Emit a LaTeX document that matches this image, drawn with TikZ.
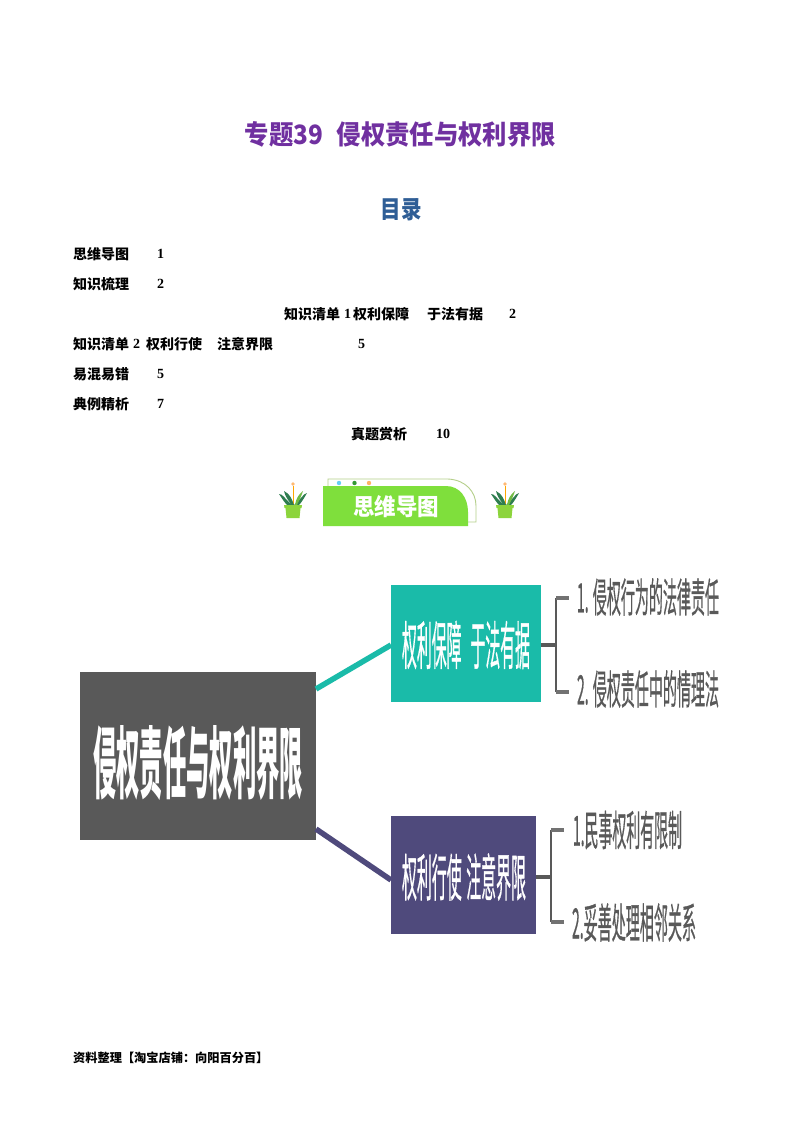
\documentclass[tikz,border=0pt]{standalone}
\usepackage{graphicx}
\usepackage{fontspec}
\setmainfont{Liberation Serif}
\newfontfamily\cjk{Noto Sans CJK SC}
\newfontfamily\cjkm[FakeBold=0.9]{Noto Sans CJK SC}
\definecolor{titlepurple}{HTML}{7030A0}
\definecolor{tocblue}{HTML}{2F5E96}
\definecolor{rootgrey}{HTML}{595959}
\definecolor{tealbox}{HTML}{1ABBA9}
\definecolor{violetbox}{HTML}{4F4A7C}
\definecolor{bannergreen}{HTML}{7FDF3C}
\definecolor{potgreen}{HTML}{8CD43C}
\definecolor{leafgreen}{HTML}{2E7D4F}
\definecolor{outlinegreen}{HTML}{B5CF8A}
\newcommand{\fit}[3]{\resizebox{#1pt}{#2pt}{\cjk\bfseries #3}}
\newcommand{\fitr}[3]{\resizebox{#1pt}{#2pt}{\cjkm #3}}
\tikzset{
  x=1pt,y=-1pt,
  toc/.style={anchor=west,inner sep=0pt,font=\fontsize{14pt}{14pt}\selectfont\cjk\bfseries,text=black},
  num/.style={anchor=west,inner sep=0pt,font=\fontsize{14pt}{14pt}\selectfont\rmfamily\bfseries,text=black},
  foottext/.style={anchor=west,inner sep=0pt,font=\fontsize{12.2pt}{13pt}\selectfont\cjk\bfseries,text=black},
  txt/.style={inner sep=0pt,anchor=center},
  rootbox/.style={draw=none,fill=rootgrey,minimum width=236pt,minimum height=168pt,inner sep=0pt},
  tealnode/.style={draw=none,fill=tealbox,minimum width=150pt,minimum height=117pt,inner sep=0pt},
  violetnode/.style={draw=none,fill=violetbox,minimum width=145pt,minimum height=118pt,inner sep=0pt},
  trunk/.style={draw=rootgrey,line width=4.5pt},
  brace/.style={draw=rootgrey,line width=2.8pt,line cap=butt},
  stub/.style={draw=rootgrey!85,line width=3.6pt},
  pot/.style={fill=potgreen,draw=none},
  leaf/.style={fill=leafgreen,draw=none},
}
\newcommand{\plant}[1]{%
  \begin{scope}[shift={(#1,0)}]
    \draw[orange!70!yellow,line width=.6pt] (0,505) -- (0,486);
    \fill[orange!55!white] (0,484) circle (1.8pt);
    \fill[leaf] (-1,505) .. controls (-9,498) and (-10,494) .. (-14,494) .. controls (-10,500) and (-8,503) .. (-6,505) -- cycle;
    \fill[leaf] (1,505) .. controls (9,498) and (10,494) .. (14,493) .. controls (10,500) and (8,503) .. (6,505) -- cycle;
    \fill[leaf] (-2,505) .. controls (-4,500) and (-7,499) .. (-9,491) .. controls (-3,494) and (-1,499) .. (1,505) -- cycle;
    \fill[potgreen!70!leafgreen] (2,505) .. controls (3,499) and (5,495) .. (10,491) .. controls (8,497) and (6,501) .. (4,505) -- cycle;
    \fill[pot] (-9,505) -- (9,505) -- (8.5,508) -- (7.5,508) -- (6.5,518) -- (-6.5,518) -- (-7.5,508) -- (-8.5,508) -- cycle;
  \end{scope}}
\begin{document}
\begin{tikzpicture}
\useasboundingbox (0,0) rectangle (800,1132);
\fill[white] (0,0) rectangle (800,1132);
% title
\node[txt,text=titlepurple] (title) at (400.5,134) {\fit{311}{23}{专题39\hspace{.55em}侵权责任与权利界限}};
\node[txt,text=tocblue] (mulu) at (401,210) {\fit{41}{20}{目录}};
% toc
\node[toc] (t1) at (73,254) {思维导图};
\node[num] (n1) at (157,254) {1};
\node[toc] (t2) at (73,284) {知识梳理};
\node[num] (n2) at (157,284) {2};
\node[toc] (t3) at (284,314) {知识清单};
\node[num] (t3b) at (344,314) {1};
\node[toc] (t3c) at (353,314) {权利保障};
\node[toc] (t3d) at (427,314) {于法有据};
\node[num] (n3) at (509,314) {2};
\node[toc] (t4) at (73,344) {知识清单};
\node[num] (t4b) at (133,344) {2};
\node[toc] (t4c) at (146,344) {权利行使};
\node[toc] (t4d) at (217,344) {注意界限};
\node[num] (n4) at (358,344) {5};
\node[toc] (t5) at (73,374) {易混易错};
\node[num] (n5) at (157,374) {5};
\node[toc] (t6) at (73,404) {典例精析};
\node[num] (n6) at (157,404) {7};
\node[toc] (t7) at (351,434) {真题赏析};
\node[num] (n7) at (436,434) {10};
% banner
\draw[outlinegreen,line width=.9pt,fill=white] (328,488) -- (328,479) -- (448,479) .. controls (466,480) and (476,492) .. (476,506) -- (476,522) -- (466,522);
\fill[cyan!60!white] (339,483) circle (2.2pt);
\fill[green!50!black!80] (354.5,483) circle (2.2pt);
\fill[orange!60!white] (369,483) circle (2.2pt);
\fill[bannergreen] (323,486) -- (446,486) .. controls (460,486) and (468,498) .. (468,512) -- (468,526) -- (323,526) -- cycle;
\node[txt,text=white] (banner) at (396,506.5) {\fit{86}{20}{思维导图}};
\plant{293}
\plant{505}
% mind map
\node[rootbox] (root) at (198,756) {};
\node[tealnode] (teal) at (466,643.5) {};
\node[violetnode] (violet) at (463.5,875) {};
\coordinate (ra) at (316,689);
\coordinate (ta) at (391,645);
\coordinate (rb) at (316,829);
\coordinate (vb) at (391,880);
\draw[tealbox,line width=5.5pt] (ra) -- (ta);
\draw[violetbox,line width=5.5pt] (rb) -- (vb);
\node[txt,text=white] (roottext) at (198,763) {\fit{210}{67}{侵权责任与权利界限}};
\node[txt,text=white] (tealtext) at (466,645) {\fitr{128}{44}{权利保障\hspace{.6em}于法有据}};
\node[txt,text=white] (violettext) at (464,877) {\fitr{124}{43}{权利行使\hspace{.3em}注意界限}};
% brackets
\coordinate (j1) at (556,645);
\coordinate (j1t) at (556,598);
\coordinate (j1b) at (556,692);
\coordinate (e1t) at (569,598);
\coordinate (e1b) at (569,692);
\draw[trunk] (teal.east |- j1) -- (j1);
\draw[brace] (j1t) -- (j1b);
\draw[stub] (j1t) -- (e1t);
\draw[stub] (j1b) -- (e1b);
\coordinate (j2) at (551,877);
\coordinate (j2t) at (551,830);
\coordinate (j2b) at (551,922);
\coordinate (e2t) at (564,830);
\coordinate (e2b) at (564,922);
\draw[trunk] (violet.east |- j2) -- (j2);
\draw[brace] (j2t) -- (j2b);
\draw[stub] (j2t) -- (e2t);
\draw[stub] (j2b) -- (e2b);
\node[txt,text=rootgrey] (l1) at (648,597) {\fitr{142}{34}{1. 侵权行为的法律责任}};
\node[txt,text=rootgrey] (l2) at (648,689) {\fitr{142}{34}{2. 侵权责任中的情理法}};
\node[txt,text=rootgrey] (l3) at (627.5,830) {\fitr{109}{35}{1.民事权利有限制}};
\node[txt,text=rootgrey] (l4) at (634,922.5) {\fitr{124}{35}{2.妥善处理相邻关系}};
% footer
\node[foottext] (foot) at (73,1058) {资料整理【淘宝店铺：向阳百分百】};
\end{tikzpicture}
\end{document}
